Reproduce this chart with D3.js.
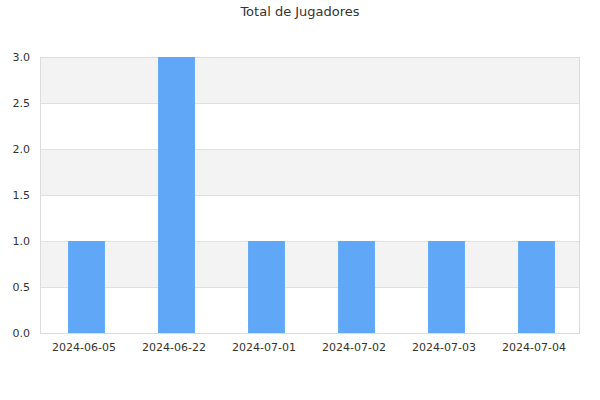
<!DOCTYPE html>
<html>
<head>
<meta charset="utf-8">
<script src="https://cdn.jsdelivr.net/npm/d3@7"></script>
<style>
  body { margin: 0; background: #fff; }
  text { font-family: "DejaVu Sans", sans-serif; fill: #333; }
</style>
</head>
<body>
<script>
let fechas = ['2024-06-05', '2024-06-22', '2024-07-01', '2024-07-02', '2024-07-03', '2024-07-04'];
let jugadores = [1, 3, 1, 1, 1, 1];
let yTicks = [0, 0.5, 1, 1.5, 2, 2.5, 3];

let WIDTH = 600,
    HEIGHT = 400;
let margin = {top: 57, right: 20, bottom: 67, left: 40};

let svg = d3.select('body')
    .append('svg')
    .attr('width', WIDTH)
    .attr('height', HEIGHT);

let x = d3.scaleBand()
    .domain(fechas)
    .range([margin.left, WIDTH - margin.right])
    .padding(0);

let y = d3.scaleLinear()
    .domain([0, 3])
    .range([HEIGHT - margin.bottom, margin.top]);

// alternating bands
let bands = d3.pairs(yTicks);
svg.append('g')
    .selectAll('rect')
    .data(bands)
    .enter()
    .append('rect')
    .attr('x', margin.left)
    .attr('width', WIDTH - margin.right - margin.left)
    .attr('y', (d) => y(d[1]))
    .attr('height', (d) => y(d[0]) - y(d[1]))
    .attr('fill', (d, i) => i % 2 === 1 ? '#f3f3f3' : '#ffffff');

// grid lines
svg.append('g')
    .selectAll('line')
    .data(yTicks)
    .enter()
    .append('line')
    .attr('x1', margin.left)
    .attr('x2', WIDTH - margin.right)
    .attr('y1', (d) => Math.round(y(d)) + 0.5)
    .attr('y2', (d) => Math.round(y(d)) + 0.5)
    .attr('stroke', '#e0e0e0');

// frame
svg.append('rect')
    .attr('x', margin.left + 0.5)
    .attr('y', margin.top + 0.5)
    .attr('width', WIDTH - margin.right - margin.left - 1)
    .attr('height', HEIGHT - margin.bottom - margin.top)
    .attr('fill', 'none')
    .attr('stroke', '#dcdcdc');

// bars
let barW = x.bandwidth() * 0.41;
svg.append('g')
    .selectAll('rect')
    .data(jugadores)
    .enter()
    .append('rect')
    .attr('x', (d, i) => x(fechas[i]) + x.bandwidth() / 2 - barW / 2 + 1.5)
    .attr('width', barW)
    .attr('y', (d) => y(d))
    .attr('height', (d) => y(0) - y(d))
    .attr('fill', '#60a8f7');

// axes
let yAxis = d3.axisLeft(y)
    .tickValues(yTicks)
    .tickFormat(d3.format('.1f'))
    .tickSize(0)
    .tickPadding(10);
let yg = svg.append('g')
    .attr('transform', 'translate(' + margin.left + ',0)')
    .call(yAxis);
yg.select('.domain').remove();
yg.selectAll('text').style('font-size', '11px').attr('fill', '#333');

let xAxis = d3.axisBottom(x)
    .tickSize(0)
    .tickPadding(10);
let xg = svg.append('g')
    .attr('transform', 'translate(-1,' + (HEIGHT - margin.bottom) + ')')
    .call(xAxis);
xg.select('.domain').remove();
xg.selectAll('text').style('font-size', '11px').attr('fill', '#333');

// title
svg.append('text')
    .attr('x', WIDTH / 2)
    .attr('y', 16)
    .attr('text-anchor', 'middle')
    .style('font-size', '13px')
    .text('Total de Jugadores');
</script>
</body>
</html>
